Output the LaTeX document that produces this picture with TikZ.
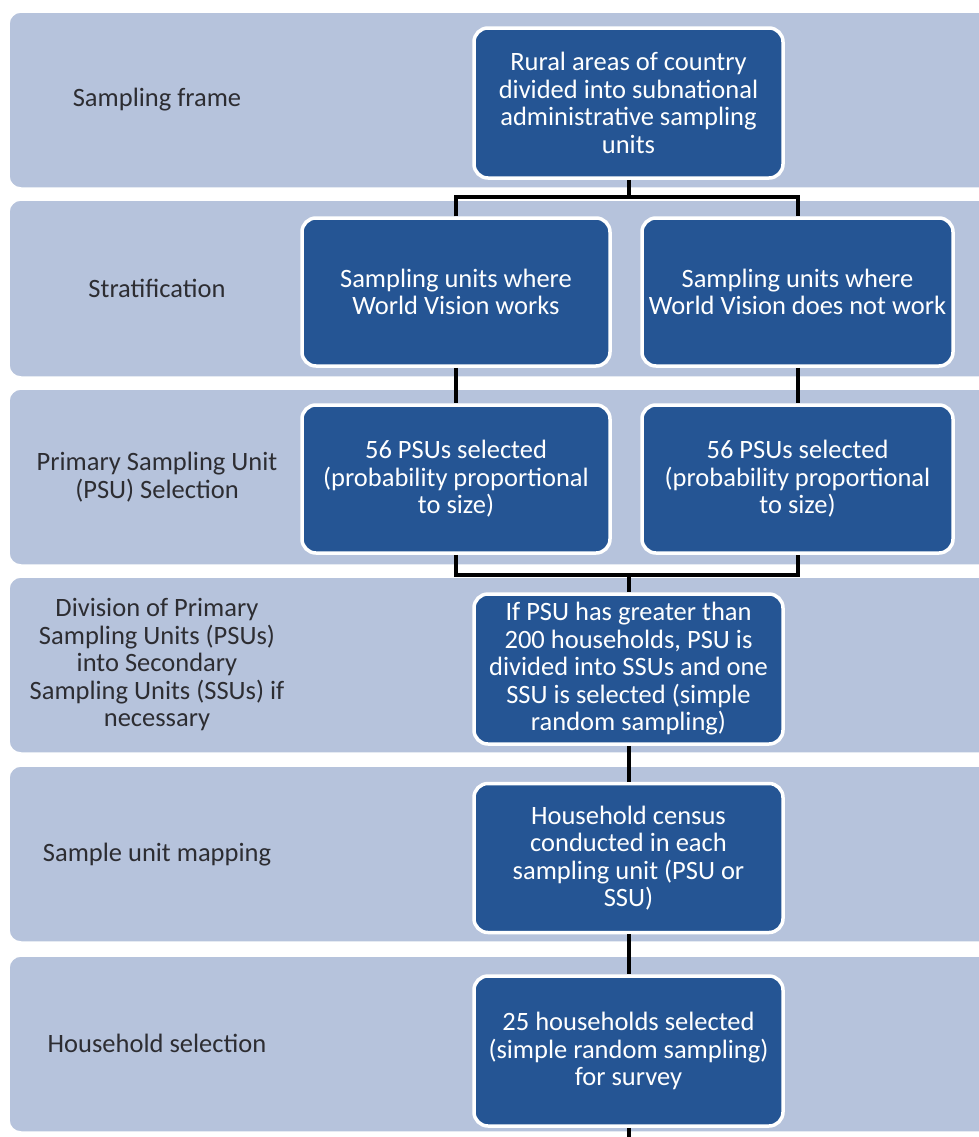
\documentclass[tikz,border=0pt]{standalone}
\usepackage{fontspec}
\setmainfont{Carlito}
\definecolor{bandc}{RGB}{182,195,220}
\definecolor{boxc}{RGB}{37,85,148}
\definecolor{labc}{RGB}{45,45,50}
\begin{document}
\begin{tikzpicture}[x=1bp,y=-1bp,
  band/.style={fill=bandc,draw=white,line width=1.5bp,rounded corners=12bp},
  stepbox/.style={draw=white,line width=3.5bp,fill=boxc,rounded corners=14bp,text=white,
    font=\fontsize{26.5bp}{27.5bp}\selectfont,align=center,inner sep=0pt},
  lab/.style={text=labc,font=\fontsize{26.5bp}{27.5bp}\selectfont,align=center},
  conn/.style={draw=black,line width=4bp}]
\useasboundingbox (0,0) rectangle (979,1137);
\clip (0,0) rectangle (979,1137);
\fill[white] (0,0) rectangle (979,1137);
% bands
\foreach \t/\b in {12/188,200/377,389/565,577/753,766/942,956/1132}{
  \path[band] (9,\t) rectangle (1010,\b);
}
% left labels
\node[lab] (l1) at (157,100) {Sampling frame};
\node[lab] (l2) at (157,288) {Stratification};
\node[lab] (l3) at (157,477) {Primary Sampling Unit\\(PSU) Selection};
\node[lab] (l4) at (157,665) {Division of Primary\\Sampling Units (PSUs)\\into Secondary\\Sampling Units (SSUs) if\\necessary};
\node[lab] (l5) at (157,855) {Sample unit mapping};
\node[lab] (l6) at (157,1043) {Household selection};
% boxes
\node[stepbox,minimum width=309bp,minimum height=150bp] (b1) at (628.5,103) {Rural areas of country\\divided into subnational\\administrative sampling\\units};
\node[stepbox,minimum width=308bp,minimum height=148bp] (b2a) at (456,292) {Sampling units where\\World Vision works};
\node[stepbox,minimum width=311bp,minimum height=148bp] (b2b) at (797.5,292) {Sampling units where\\World Vision does not work};
\node[stepbox,minimum width=308bp,minimum height=148bp] (b3a) at (456,479) {56 PSUs selected\\(probability proportional\\to size)};
\node[stepbox,minimum width=311bp,minimum height=148bp] (b3b) at (797.5,479) {56 PSUs selected\\(probability proportional\\to size)};
\node[stepbox,minimum width=309bp,minimum height=150bp] (b4) at (628.5,669) {If PSU has greater than\\200 households, PSU is\\divided into SSUs and one\\SSU is selected (simple\\random sampling)};
\node[stepbox,minimum width=309bp,minimum height=149bp] (b5) at (628.5,858) {Household census\\conducted in each\\sampling unit (PSU or\\SSU)};
\node[stepbox,minimum width=309bp,minimum height=150bp] (b6) at (628.5,1051) {25 households selected\\(simple random sampling)\\for survey};
\coordinate (end) at (628.5,1140);
\coordinate (j1) at (628.5,197);
\coordinate (j3) at (628.5,575);
% connectors
\path[conn] (b1.south) -- (j1);
\path[conn] (b2a.north) |- (j1) -| (b2b.north);
\path[conn] (b2a.south) -- (b3a.north);
\path[conn] (b2b.south) -- (b3b.north);
\path[conn] (b3a.south) |- (j3) -| (b3b.south);
\path[conn] (j3) -- (b4.north);
\path[conn] (b4.south) -- (b5.north);
\path[conn] (b5.south) -- (b6.north);
\path[conn] (b6.south) -- (end);
\end{tikzpicture}
\end{document}
